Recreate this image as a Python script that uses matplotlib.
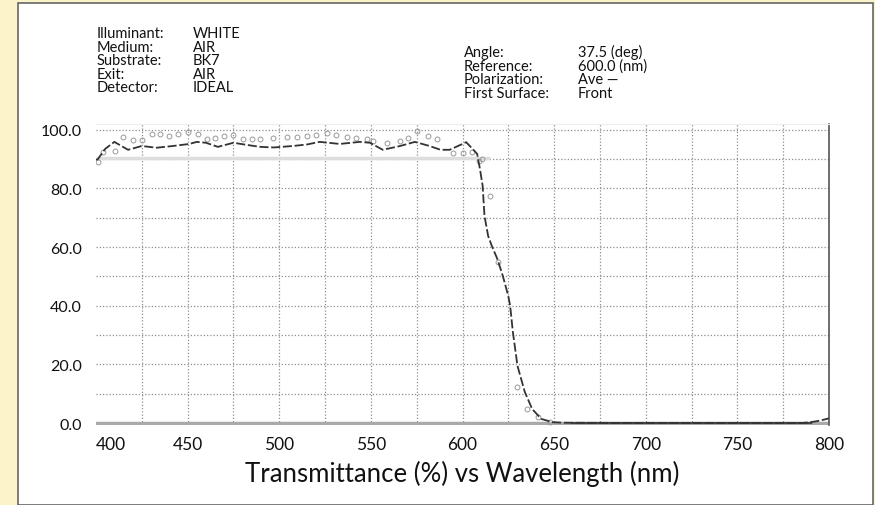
import matplotlib.pyplot as plt
from matplotlib.patches import Rectangle

plt.rcParams['font.family'] = ['Lato', 'DejaVu Sans']

# design curve (Ave polarization)
wl_curve = [400, 401, 405, 410, 417.5, 425, 433, 442, 451, 455, 460, 466.5, 475, 482,
            489.5, 497, 507.5, 515, 522, 533, 544, 549.5, 556.5, 566, 574, 582, 588,
            593, 600, 602, 605.5, 608, 609.5, 611, 612, 614, 616, 619, 622, 625, 626,
            627.5, 630, 634, 638, 643, 649, 655, 700, 750, 785, 790, 795, 800]
t_curve = [89.8, 90.0, 93.5, 95.9, 93.2, 94.5, 93.9, 94.5, 95.2, 95.9, 95.6, 94.2, 95.6, 94.9,
           94.2, 94.0, 94.5, 95.0, 95.9, 95.2, 95.9, 95.6, 93.2, 94.5, 95.9, 94.5, 93.2,
           93.2, 95.2, 95.8, 93.5, 91.8, 86.7, 80.9, 70.6, 63.8, 60.4, 56.0, 50.2, 43.3, 40.0,
           31.0, 19.5, 10.6, 4.8, 1.4, 0.3, 0.1, 0.0, 0.0, 0.0, 0.3, 0.8, 1.6]

# measured points
wl_meas = [401, 404, 410.5, 415, 420, 425, 430.5, 435, 440, 445, 450, 455.5, 460.5, 465, 470,
           475, 480, 485, 489.5, 496.5, 504, 509.5, 515, 520, 526, 531, 537, 542, 548, 551,
           559, 566, 570, 575, 581, 586, 595, 600, 605, 609, 610.5, 615, 619.5, 629.6, 635,
           641, 648]
t_meas = [89.0, 92.5, 92.8, 97.6, 96.6, 96.6, 98.6, 98.6, 98.0, 98.6, 99.3, 98.6, 97.0, 97.3, 98.0,
          98.3, 97.0, 97.0, 97.0, 97.3, 97.6, 97.6, 98.0, 98.3, 99.0, 98.3, 97.6, 97.3, 97.0, 96.2,
          95.5, 96.2, 97.3, 99.6, 98.0, 97.0, 92.0, 92.0, 92.5, 89.4, 90.0, 77.5, 55.0, 12.3, 4.8,
          2.0, 0.5]

spec_wl = [400, 615]
spec_t = [90.5, 90.5]

x_ticks = [400, 450, 500, 550, 600, 650, 700, 750, 800]
y_ticks = [0, 20, 40, 60, 80, 100]

left_labels = ['Illuminant:', 'Medium:', 'Substrate:', 'Exit:', 'Detector:']
left_values = ['WHITE', 'AIR', 'BK7', 'AIR', 'IDEAL']
right_labels = ['Angle:', 'Reference:', 'Polarization:', 'First Surface:']
right_values = ['37.5 (deg)', '600.0 (nm)', 'Ave \u2014', 'Front']

W, H = 875, 506
fig = plt.figure(figsize=(W / 100, H / 100), dpi=100)
fig.patch.set_facecolor('#fcf3c9')
fig.add_artist(Rectangle((18 / W, 0), (873 - 18) / W, (H - 4) / H, transform=fig.transFigure,
                         facecolor='white', edgecolor='#666666', lw=1.2, zorder=0))

ax = fig.add_axes([96 / W, 1 - 425.5 / H, (829 - 96) / W, (425.5 - 125) / H])
ax.set_facecolor('none')
ax.set_xlim(400, 800)
ax.set_ylim(-0.5, 102)

grid_kw = dict(color='#8f8f8f', lw=0.9, ls=(0, (1, 1.6)), zorder=1)
for x in range(425, 800, 25):
    ax.axvline(x, **grid_kw)
for y in range(10, 101, 10):
    ax.axhline(y, **grid_kw)

ax.plot(spec_wl, spec_t, color='#dddddd', lw=2.5, zorder=2, solid_capstyle='butt')
ax.axhline(0, color='#aaaaaa', lw=2.5, zorder=2)
ax.plot([660, 790], [0, 0], color='#444444', lw=1.5, zorder=3)
ax.plot(wl_curve, t_curve, color='#333333', lw=1.3, ls=(0, (5, 1.5)), zorder=4)
ax.plot(wl_meas, t_meas, ls='none', marker='o', ms=3.5, mfc='none', mec='#999999', mew=0.7,
        zorder=3)

for s in ['left', 'bottom']:
    ax.spines[s].set_visible(False)
ax.spines['top'].set_color('#eeeeee')
ax.spines['right'].set_color('#555555')
ax.spines['right'].set_linewidth(1.2)

ax.set_xticks(x_ticks)
ax.set_xticklabels([str(v) for v in x_ticks], fontsize=12.5)
ax.get_xticklabels()[0].set_horizontalalignment('left')
ax.set_yticks(y_ticks)
ax.set_yticklabels(['%.1f' % v for v in y_ticks], fontsize=11.5)
ax.tick_params(length=0, colors='#111111')
ax.tick_params(axis='x', pad=8)
ax.tick_params(axis='y', pad=10)

fig.text(462 / W, 1 - 474 / H, 'Transmittance (%) vs Wavelength (nm)', ha='center', va='center',
         fontsize=18.5, color='#111111')

hdr_kw = dict(ha='left', va='baseline', fontsize=10.5, color='#111111')
for i, (lab, val) in enumerate(zip(left_labels, left_values)):
    yy = 1 - (38.5 + i * 13.4) / H
    fig.text(97 / W, yy, lab, **hdr_kw)
    fig.text(193 / W, yy, val, **hdr_kw)
for i, (lab, val) in enumerate(zip(right_labels, right_values)):
    yy = 1 - (57.5 + i * 13.4) / H
    fig.text(464 / W, yy, lab, **hdr_kw)
    fig.text(578 / W, yy, val, **hdr_kw)

fig.savefig('out.png', dpi=100, facecolor=fig.get_facecolor())
